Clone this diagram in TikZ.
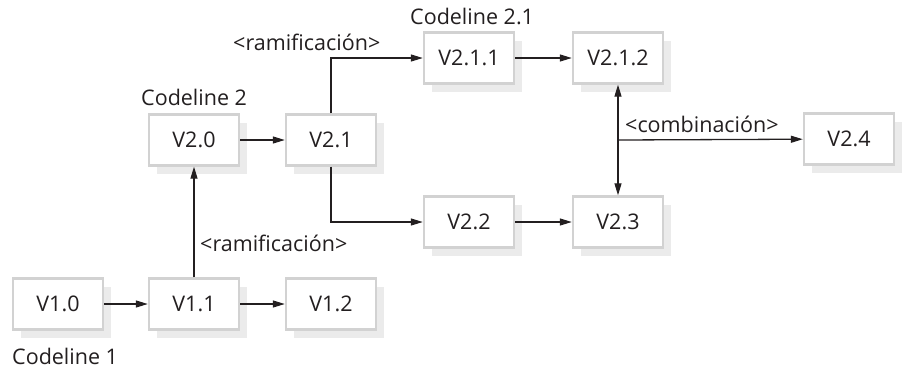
\documentclass[tikz,border=0pt]{standalone}
\usepackage{fontspec}
\setmainfont{Open Sans}
\usetikzlibrary{arrows.meta,shadows}
\definecolor{boxLine}{HTML}{D2D2D2}
\definecolor{boxShadow}{HTML}{EBEBEB}
\definecolor{ink}{HTML}{231F20}
\tikzset{
    version/.style={
        rectangle,
        draw=boxLine,
        fill=white,
        line width=2.4pt,
        minimum width=90pt,
        minimum height=51pt,
        inner sep=0pt,
        text=ink,
        font=\fontsize{21.5}{24}\selectfont,
        drop shadow={shadow xshift=8pt, shadow yshift=-8pt, fill=boxShadow, opacity=1}
    },
    flow/.style={
        -{Triangle[length=12pt,width=7pt]},
        draw=ink,
        line width=1.3pt
    },
    twoway/.style={
        {Triangle[length=12pt,width=7pt]}-{Triangle[length=12pt,width=7pt]},
        draw=ink,
        line width=1.3pt
    },
    linelabel/.style={
        font=\fontsize{21.5}{24}\selectfont,
        text=ink,
        inner sep=0pt
    }
}
\begin{document}
\begin{tikzpicture}[x=1pt,y=-1pt]
    \useasboundingbox (0,0) rectangle (902,368);

    % Codeline 1
    \node[version] (v10) at (58,304) {V1.0};
    \node[version] (v11) at (194,304) {V1.1};
    \node[version] (v12) at (331,304) {V1.2};

    % Codeline 2
    \node[version] (v20) at (194,140) {V2.0};
    \node[version] (v21) at (331,140) {V2.1};
    \node[version] (v22) at (469,222) {V2.2};
    \node[version] (v23) at (618,222) {V2.3};
    \node[version] (v24) at (849,139) {V2.4};

    % Codeline 2.1
    \node[version] (v211) at (469,58) {V2.1.1};
    \node[version] (v212) at (618,58) {V2.1.2};

    % Merge point
    \coordinate (merge) at (618,140);

    % Straight successions
    \draw[flow] (v10) -- (v11);
    \draw[flow] (v11) -- (v12);
    \draw[flow] (v20) -- (v21);
    \draw[flow] (v211) -- (v212);
    \draw[flow] (v22) -- (v23);

    % Branches
    \draw[flow] (v11) -- (v20);
    \draw[flow] (v21.north) |- (v211.west);
    \draw[flow] (v21.south) |- (v22.west);

    % Combination
    \draw[twoway] (v212) -- (v23);
    \draw[flow] (merge) -- (v24);

    % Labels
    \node[linelabel, anchor=west] at (12,356) {Codeline 1};
    \node[linelabel, anchor=west] at (141,97) {Codeline 2};
    \node[linelabel, anchor=west] at (410,16) {Codeline 2.1};
    \node[linelabel, anchor=west] at (233,42) {<ramificación>};
    \node[linelabel, anchor=west] at (200,243) {<ramificación>};
    \node[linelabel, anchor=west] at (625,124) {<combinación>};

\end{tikzpicture}
\end{document}
